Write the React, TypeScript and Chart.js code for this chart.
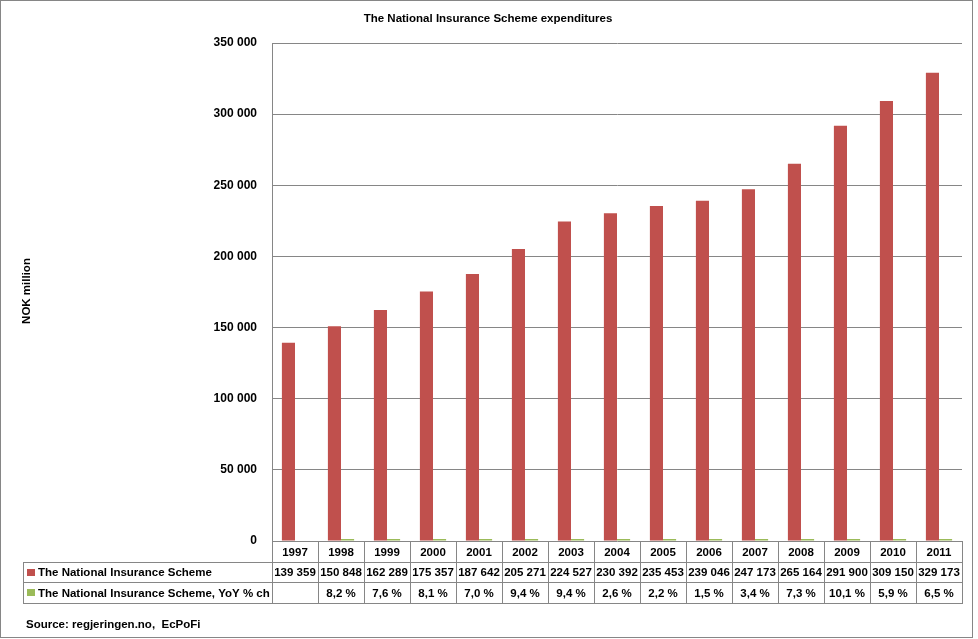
import React, { useEffect, useRef } from "react";
import { Chart, registerables } from "chart.js";

Chart.register(...registerables);

const chartTitle = "The National Insurance Scheme expenditures";
const yAxisTitle = "NOK million";
const sourceText = "Source: regjeringen.no,  EcPoFi";
const years = ["1997", "1998", "1999", "2000", "2001", "2002", "2003", "2004", "2005", "2006", "2007", "2008", "2009", "2010", "2011"];
const nisLabel = "The National Insurance Scheme";
const yoyLabel = "The National Insurance Scheme, YoY % ch";
const nisValues = [139359, 150848, 162289, 175357, 187642, 205271, 224527, 230392, 235453, 239046, 247173, 265164, 291900, 309150, 329173];
const yoyValues: (number | null)[] = [null, 8.2, 7.6, 8.1, 7.0, 9.4, 9.4, 2.6, 2.2, 1.5, 3.4, 7.3, 10.1, 5.9, 6.5];
const yMin = 0;
const yMax = 350000;
const yStep = 50000;

const RED = "#C0504D";
const GREEN = "#9BBB59";
const GRID = "#868686";
const FONT = "'Liberation Sans', Arial, sans-serif";

function fmtThousands(v: number): string {
  const s = Math.round(v).toString();
  return s.replace(/\B(?=(\d{3})+(?!\d))/g, " ");
}
function fmtPct(v: number | null): string {
  if (v === null || v === undefined) return "";
  return v.toFixed(1).replace(".", ",") + " %";
}

const tablePlugin = {
  id: "excelTable",
  afterDraw(chart: any) {
    const ctx = chart.ctx as CanvasRenderingContext2D;
    const area = chart.chartArea;
    const xs = chart.scales.x;
    const n = years.length;
    const colW = (area.right - area.left) / n;
    const top = Math.round(area.bottom);
    const rowH = 20.7;
    const r1 = top + rowH;
    const r2 = top + rowH * 2;
    const r3 = top + rowH * 3;
    const tableLeft = 23;

    ctx.save();
    ctx.strokeStyle = GRID;
    ctx.lineWidth = 1;
    // outer border
    ctx.strokeRect(0.5, 0.5, 972, 637);

    // table lines
    ctx.beginPath();
    for (let i = 0; i <= n; i++) {
      const x = Math.round(area.left + i * colW) + 0.5;
      ctx.moveTo(x, top);
      ctx.lineTo(x, Math.round(r3));
    }
    ctx.moveTo(tableLeft + 0.5, Math.round(r1));
    ctx.lineTo(tableLeft + 0.5, Math.round(r3));
    for (const y of [r1, r2, r3]) {
      ctx.moveTo(tableLeft, Math.round(y) + 0.5);
      ctx.lineTo(Math.round(area.right) + 1, Math.round(y) + 0.5);
    }
    ctx.stroke();

    ctx.fillStyle = "#000";
    ctx.font = `bold 11.5px ${FONT}`;
    ctx.textBaseline = "middle";
    ctx.textAlign = "center";
    for (let i = 0; i < n; i++) {
      const cx = xs.getPixelForValue(i);
      ctx.fillText(years[i], cx, top + rowH / 2 + 1);
      ctx.fillText(fmtThousands(nisValues[i]), cx, r1 + rowH / 2 + 1);
      ctx.fillText(fmtPct(yoyValues[i]), cx, r2 + rowH / 2 + 1);
    }
    ctx.textAlign = "left";
    ctx.fillText(nisLabel, 38, r1 + rowH / 2 + 1);
    ctx.fillText(yoyLabel, 38, r2 + rowH / 2 + 1);
    ctx.fillStyle = RED;
    ctx.fillRect(27, Math.round(r1) + 7, 8, 7);
    ctx.fillStyle = GREEN;
    ctx.fillRect(27, Math.round(r2) + 7, 8, 7);

    // title
    ctx.fillStyle = "#000";
    ctx.textAlign = "center";
    ctx.font = `bold 11.5px ${FONT}`;
    ctx.fillText(chartTitle, 488, 19);

    // y-axis title
    ctx.save();
    ctx.translate(27, 291);
    ctx.rotate(-Math.PI / 2);
    ctx.textAlign = "center";
    ctx.fillText(yAxisTitle, 0, 0);
    ctx.restore();

    // source
    ctx.textAlign = "left";
    ctx.fillText(sourceText, 26, 625);
    ctx.restore();
  },
};

export default function App() {
  const ref = useRef<HTMLCanvasElement | null>(null);
  useEffect(() => {
    if (!ref.current) return;
    const chart = new Chart(ref.current, {
      type: "bar",
      data: {
        labels: years,
        datasets: [
          {
            label: nisLabel,
            data: nisValues,
            backgroundColor: RED,
            categoryPercentage: 0.57,
            barPercentage: 1,
          },
          {
            label: yoyLabel,
            data: yoyValues,
            backgroundColor: GREEN,
            categoryPercentage: 0.57,
            barPercentage: 1,
            minBarLength: 2,
          },
        ],
      },
      options: {
        responsive: false,
        animation: false,
        devicePixelRatio: 1,
        layout: { padding: { left: 0, top: 43, right: 16, bottom: 98 } },
        plugins: {
          legend: { display: false },
          title: { display: false },
          tooltip: { enabled: false },
        },
        scales: {
          x: { display: false },
          y: {
            min: yMin,
            max: yMax,
            ticks: {
              stepSize: yStep,
              padding: 15,
              color: "#000",
              font: { family: FONT, size: 12, weight: "bold" },
              callback: (v: any) => fmtThousands(Number(v)),
            },
            grid: { color: GRID, drawTicks: false },
            border: { color: GRID },
            afterFit: (s: any) => {
              s.width = 272;
            },
          },
        },
      },
      plugins: [tablePlugin],
    } as any);
    return () => chart.destroy();
  }, []);
  return (
    <div style={{ position: "absolute", left: 0, top: 0, width: 978, height: 639, background: "#fff" }}>
      <canvas ref={ref} width={978} height={639} style={{ width: 978, height: 639, display: "block" }} />
    </div>
  );
}
